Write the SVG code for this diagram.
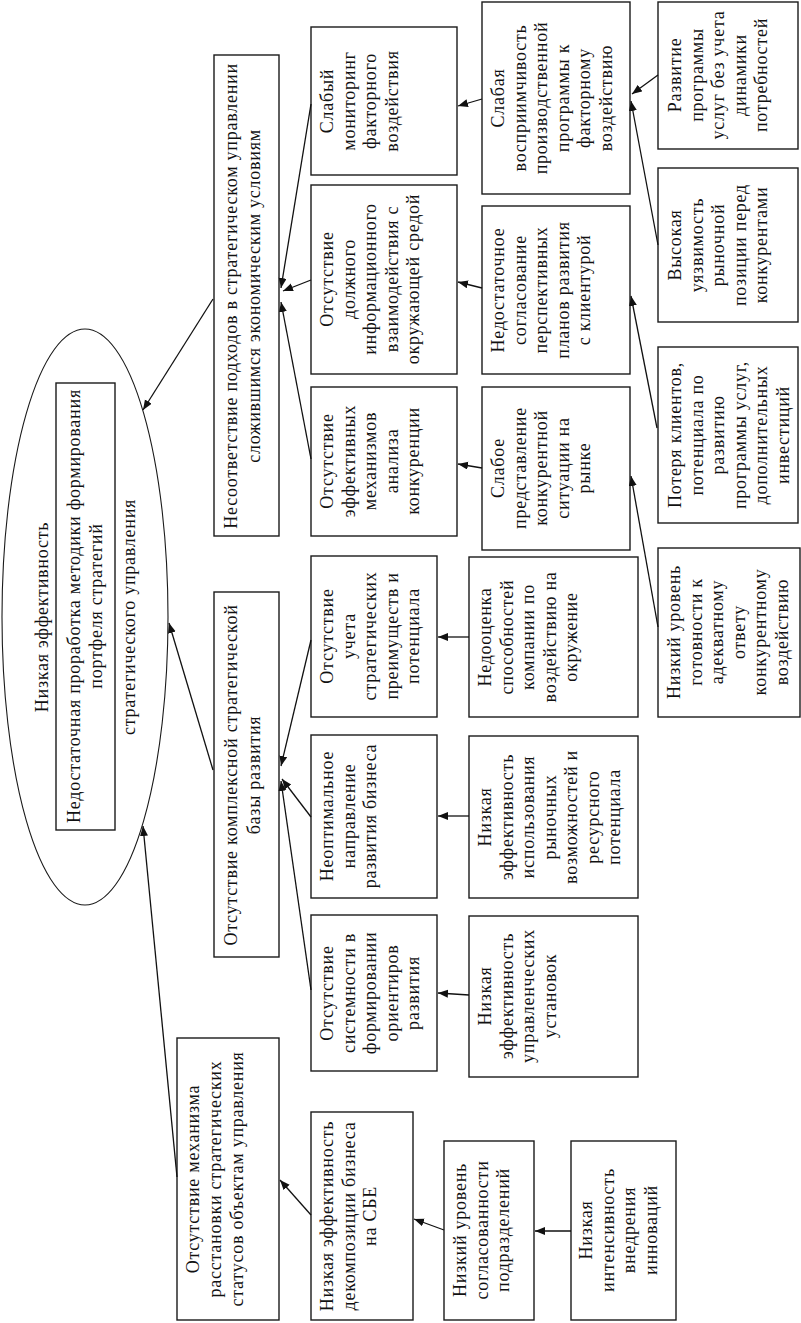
<svg xmlns="http://www.w3.org/2000/svg" width="801" height="1323" viewBox="0 0 801 1323">
<defs>
<style>
.b{fill:#fff;stroke:#1a1a1a;stroke-width:1.4}
.e{fill:#fff;stroke:#1a1a1a;stroke-width:1.1}
.t{font-family:"Liberation Serif","Times New Roman",serif;font-size:18px;letter-spacing:0.75px;fill:#111;text-anchor:middle}
.c line{stroke:#111;stroke-width:1.3;marker-end:url(#ah)}
</style>
<marker id="ah" markerUnits="userSpaceOnUse" markerWidth="11" markerHeight="9" refX="10" refY="4" orient="auto">
<path d="M0,0 L10,4 L0,8 z" fill="#111"/>
</marker>
</defs>
<rect width="801" height="1323" fill="#fff"/>

<g id="root">
<ellipse class="e" cx="85" cy="617" rx="83" ry="288"/>
<rect class="b" x="56" y="383" width="59" height="447"/>
<text class="t" transform="translate(48,617) rotate(-90)">Низкая эффективность</text>
<text class="t" transform="translate(80,606) rotate(-90)"><tspan x="0" y="0">Недостаточная проработка методики формирования</tspan><tspan x="0" y="22">портфеля стратегий</tspan></text>
<text class="t" transform="translate(135,617) rotate(-90)">стратегического управления</text>
</g>

<g id="n_a"><rect class="b" x="214" y="55" width="65" height="481"/>
<text class="t" transform="translate(237,296) rotate(-90)"><tspan x="0" y="0">Несоответствие подходов в стратегическом управлении</tspan><tspan x="0" y="23">сложившимся экономическим условиям</tspan></text></g>
<g id="n_b"><rect class="b" x="214" y="592" width="65" height="365"/>
<text class="t" transform="translate(237,775) rotate(-90)"><tspan x="0" y="0">Отсутствие комплексной стратегической</tspan><tspan x="0" y="23">базы развития</tspan></text></g>
<g id="n_c"><rect class="b" x="177" y="1038" width="102" height="282"/>
<text class="t" transform="translate(199,1179) rotate(-90)"><tspan x="0" y="0">Отсутствие механизма</tspan><tspan x="0" y="22">расстановки стратегических</tspan><tspan x="0" y="44">статусов объектам управления</tspan></text></g>

<g id="n3_1"><rect class="b" x="311" y="27" width="146" height="148"/>
<text class="t" transform="translate(333,101) rotate(-90)"><tspan x="0" y="0">Слабый</tspan><tspan x="0" y="21.5">мониторинг</tspan><tspan x="0" y="43">факторного</tspan><tspan x="0" y="64.5">воздействия</tspan></text></g>
<g id="n3_2"><rect class="b" x="311" y="185" width="146" height="189"/>
<text class="t" transform="translate(333,279) rotate(-90)"><tspan x="0" y="0">Отсутствие</tspan><tspan x="0" y="21.5">должного</tspan><tspan x="0" y="43">информационного</tspan><tspan x="0" y="64.5">взаимодействия с</tspan><tspan x="0" y="86">окружающей средой</tspan></text></g>
<g id="n3_3"><rect class="b" x="311" y="387" width="146" height="149"/>
<text class="t" transform="translate(333,461) rotate(-90)"><tspan x="0" y="0">Отсутствие</tspan><tspan x="0" y="21.5">эффективных</tspan><tspan x="0" y="43">механизмов</tspan><tspan x="0" y="64.5">анализа</tspan><tspan x="0" y="86">конкуренции</tspan></text></g>
<g id="n3_4"><rect class="b" x="311" y="556" width="126" height="161"/>
<text class="t" transform="translate(333,636) rotate(-90)"><tspan x="0" y="0">Отсутствие</tspan><tspan x="0" y="21.5">учета</tspan><tspan x="0" y="43">стратегических</tspan><tspan x="0" y="64.5">преимуществ и</tspan><tspan x="0" y="86">потенциала</tspan></text></g>
<g id="n3_5"><rect class="b" x="311" y="735" width="126" height="163"/>
<text class="t" transform="translate(333,816) rotate(-90)"><tspan x="0" y="0">Неоптимальное</tspan><tspan x="0" y="21.5">направление</tspan><tspan x="0" y="43">развития бизнеса</tspan></text></g>
<g id="n3_6"><rect class="b" x="311" y="915" width="126" height="156"/>
<text class="t" transform="translate(333,993) rotate(-90)"><tspan x="0" y="0">Отсутствие</tspan><tspan x="0" y="21.5">системности в</tspan><tspan x="0" y="43">формировании</tspan><tspan x="0" y="64.5">ориентиров</tspan><tspan x="0" y="86">развития</tspan></text></g>
<g id="n3_7"><rect class="b" x="311" y="1112" width="102" height="208"/>
<text class="t" transform="translate(333,1216) rotate(-90)"><tspan x="0" y="0">Низкая эффективность</tspan><tspan x="0" y="21.5">декомпозиции бизнеса</tspan><tspan x="0" y="43">на СБЕ</tspan></text></g>

<g id="n4_1"><rect class="b" x="482" y="2" width="148" height="192"/>
<text class="t" transform="translate(504,98) rotate(-90)"><tspan x="0" y="0">Слабая</tspan><tspan x="0" y="21.5">восприимчивость</tspan><tspan x="0" y="43">производственной</tspan><tspan x="0" y="64.5">программы к</tspan><tspan x="0" y="86">факторному</tspan><tspan x="0" y="107.5">воздействию</tspan></text></g>
<g id="n4_2"><rect class="b" x="482" y="206" width="148" height="168"/>
<text class="t" transform="translate(504,290) rotate(-90)"><tspan x="0" y="0">Недостаточное</tspan><tspan x="0" y="21.5">согласование</tspan><tspan x="0" y="43">перспективных</tspan><tspan x="0" y="64.5">планов развития</tspan><tspan x="0" y="86">с клиентурой</tspan></text></g>
<g id="n4_3"><rect class="b" x="482" y="387" width="148" height="163"/>
<text class="t" transform="translate(504,468) rotate(-90)"><tspan x="0" y="0">Слабое</tspan><tspan x="0" y="21.5">представление</tspan><tspan x="0" y="43">конкурентной</tspan><tspan x="0" y="64.5">ситуации на</tspan><tspan x="0" y="86">рынке</tspan></text></g>
<g id="n4_4"><rect class="b" x="469" y="557" width="169" height="160"/>
<text class="t" transform="translate(491,637) rotate(-90)"><tspan x="0" y="0">Недооценка</tspan><tspan x="0" y="21.5">способностей</tspan><tspan x="0" y="43">компании по</tspan><tspan x="0" y="64.5">воздействию на</tspan><tspan x="0" y="86">окружение</tspan></text></g>
<g id="n4_5"><rect class="b" x="469" y="736" width="169" height="162"/>
<text class="t" transform="translate(491,817) rotate(-90)"><tspan x="0" y="0">Низкая</tspan><tspan x="0" y="21.5">эффективность</tspan><tspan x="0" y="43">использования</tspan><tspan x="0" y="64.5">рыночных</tspan><tspan x="0" y="86">возможностей и</tspan><tspan x="0" y="107.5">ресурсного</tspan><tspan x="0" y="129">потенциала</tspan></text></g>
<g id="n4_6"><rect class="b" x="469" y="916" width="169" height="161"/>
<text class="t" transform="translate(491,996) rotate(-90)"><tspan x="0" y="0">Низкая</tspan><tspan x="0" y="21.5">эффективность</tspan><tspan x="0" y="43">управленческих</tspan><tspan x="0" y="64.5">установок</tspan></text></g>
<g id="n4_7"><rect class="b" x="444" y="1141" width="90" height="179"/>
<text class="t" transform="translate(466,1230) rotate(-90)"><tspan x="0" y="0">Низкий уровень</tspan><tspan x="0" y="21.5">согласованности</tspan><tspan x="0" y="43">подразделений</tspan></text></g>
<g id="n4_8"><rect class="b" x="571" y="1141" width="105" height="179"/>
<text class="t" transform="translate(592,1230) rotate(-90)"><tspan x="0" y="0">Низкая</tspan><tspan x="0" y="21.5">интенсивность</tspan><tspan x="0" y="43">внедрения</tspan><tspan x="0" y="64.5">инноваций</tspan></text></g>

<g id="n5_1"><rect class="b" x="658" y="2" width="140" height="147"/>
<text class="t" transform="translate(681,75) rotate(-90)"><tspan x="0" y="0">Развитие</tspan><tspan x="0" y="21.5">программы</tspan><tspan x="0" y="43">услуг без учета</tspan><tspan x="0" y="64.5">динамики</tspan><tspan x="0" y="86">потребностей</tspan></text></g>
<g id="n5_2"><rect class="b" x="658" y="168" width="140" height="154"/>
<text class="t" transform="translate(681,245) rotate(-90)"><tspan x="0" y="0">Высокая</tspan><tspan x="0" y="21.5">уязвимость</tspan><tspan x="0" y="43">рыночной</tspan><tspan x="0" y="64.5">позиции перед</tspan><tspan x="0" y="86">конкурентами</tspan></text></g>
<g id="n5_3"><rect class="b" x="658" y="347" width="140" height="176"/>
<text class="t" transform="translate(681,435) rotate(-90)"><tspan x="0" y="0">Потеря клиентов,</tspan><tspan x="0" y="21.5">потенциала по</tspan><tspan x="0" y="43">развитию</tspan><tspan x="0" y="64.5">программы услуг,</tspan><tspan x="0" y="86">дополнительных</tspan><tspan x="0" y="107.5">инвестиций</tspan></text></g>
<g id="n5_4"><rect class="b" x="658" y="548" width="142" height="169"/>
<text class="t" transform="translate(680,632) rotate(-90)"><tspan x="0" y="0">Низкий уровень</tspan><tspan x="0" y="21.5">готовности к</tspan><tspan x="0" y="43">адекватному</tspan><tspan x="0" y="64.5">ответу</tspan><tspan x="0" y="86">конкурентному</tspan><tspan x="0" y="107.5">воздействию</tspan></text></g>

<g id="connectors" class="c">
<line x1="213" y1="299" x2="143" y2="410"/>
<line x1="213" y1="770" x2="169" y2="623"/>
<line x1="177" y1="1177" x2="143" y2="826"/>
<line x1="311" y1="104" x2="281" y2="288"/>
<line x1="311" y1="280" x2="283" y2="291"/>
<line x1="311" y1="459" x2="281" y2="302"/>
<line x1="311" y1="640" x2="281" y2="766"/>
<line x1="311" y1="817" x2="282" y2="779"/>
<line x1="311" y1="990" x2="281" y2="781"/>
<line x1="311" y1="1215" x2="280" y2="1180"/>
<line x1="482" y1="99" x2="458" y2="106"/>
<line x1="482" y1="288" x2="458" y2="282"/>
<line x1="482" y1="468" x2="458" y2="464"/>
<line x1="469" y1="637" x2="438" y2="637"/>
<line x1="469" y1="816" x2="438" y2="816"/>
<line x1="469" y1="995" x2="438" y2="993"/>
<line x1="444" y1="1230" x2="414" y2="1219"/>
<line x1="571" y1="1231" x2="535" y2="1231"/>
<line x1="658" y1="75" x2="632" y2="94"/>
<line x1="658" y1="245" x2="631" y2="101"/>
<line x1="657" y1="428" x2="631" y2="296"/>
<line x1="658" y1="627" x2="631" y2="476"/>
</g>
</svg>
